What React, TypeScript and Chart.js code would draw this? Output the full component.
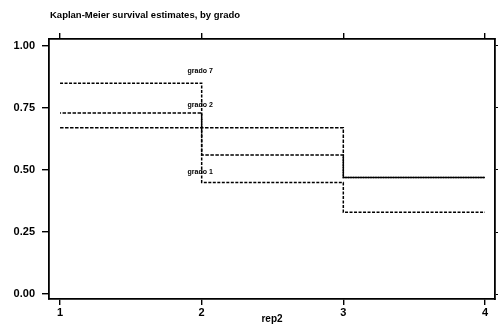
import React, { useEffect, useRef } from "react";
import { Chart, registerables } from "chart.js";

Chart.register(...registerables);

const times = [1, 2, 3, 4];
const grado1 = [0.67, 0.67, 0.47, 0.47];
const grado2 = [0.73, 0.56, 0.47, 0.47];
const grado7 = [0.85, 0.45, 0.33, 0.33];
const seriesNames = ["grado 1", "grado 2", "grado 7"];
const labelX = [1.9, 1.9, 1.9];
const labelY = [0.49, 0.76, 0.9];
const xTicks = [1, 2, 3, 4];
const yTicks = [0, 0.25, 0.5, 0.75, 1];
const titleText = "Kaplan-Meier survival estimates, by grado";
const xTitle = "rep2";

const FONT = "'Liberation Sans', Arial, sans-serif";

export default function App() {
  const ref = useRef<HTMLCanvasElement | null>(null);
  useEffect(() => {
    document.body.style.margin = "0";
    const canvas = ref.current;
    if (!canvas) return;
    const toPts = (ys: number[]) => times.map((t, i) => ({ x: t, y: ys[i] }));
    const line = (label: string, ys: number[], dash: number[], offset: number) => ({
      label,
      data: toPts(ys),
      borderColor: "#000",
      borderWidth: 1.5,
      borderDash: dash,
      borderDashOffset: offset,
      pointRadius: 0,
      stepped: "before" as const,
      fill: false,
    });
    const annot = {
      id: "annot",
      afterDraw(chart: any) {
        const { ctx, chartArea, scales } = chart;
        ctx.save();
        ctx.fillStyle = "#000";
        ctx.textBaseline = "middle";
        ctx.textAlign = "left";
        ctx.font = `bold 9.5px ${FONT}`;
        ctx.fillText(titleText, chartArea.left + 1, 15);
        ctx.textAlign = "center";
        ctx.font = `bold 10px ${FONT}`;
        ctx.fillText(xTitle, (chartArea.left + chartArea.right) / 2, 319);
        ctx.textAlign = "left";
        ctx.font = `bold 7px ${FONT}`;
        seriesNames.forEach((n, i) => {
          ctx.fillText(n, scales.x.getPixelForValue(labelX[i]), scales.y.getPixelForValue(labelY[i]));
        });
        ctx.restore();
      },
    };
    const xMin = 0.922, xMax = 4.071, yMin = -0.02, yMax = 1.028;
    const tickFont = { family: FONT, size: 11, weight: "bold" as const };
    const chart = new Chart(canvas, {
      type: "line",
      data: {
        datasets: [
          line(seriesNames[0], grado1, [3.5, 1.5], 0),
          line(seriesNames[1], grado2, [3.5, 1.5], 2.5),
          line(seriesNames[2], grado7, [3, 1.5], 0),
        ],
      },
      options: {
        animation: false,
        responsive: false,
        events: [],
        layout: { padding: 0 },
        plugins: { legend: { display: false }, title: { display: false }, tooltip: { enabled: false } },
        scales: {
          x: {
            type: "linear",
            position: "bottom",
            min: xMin,
            max: xMax,
            grid: { drawOnChartArea: false, tickLength: 6, color: "#000", lineWidth: 1.4 },
            border: { color: "#000", width: 1.8 },
            ticks: { font: tickFont, color: "#000", padding: 1, callback: (v: any) => String(v) },
            afterBuildTicks: (s: any) => { s.ticks = xTicks.map((v) => ({ value: v })); },
            afterFit: (s: any) => { s.height = 27; },
          },
          x2: {
            type: "linear",
            position: "top",
            min: xMin,
            max: xMax,
            grid: { drawOnChartArea: false, tickLength: 6, color: "#000", lineWidth: 1.4 },
            border: { color: "#000", width: 1.8 },
            ticks: { display: false },
            afterBuildTicks: (s: any) => { s.ticks = xTicks.map((v) => ({ value: v })); },
            afterFit: (s: any) => { s.height = 39; },
          },
          y: {
            type: "linear",
            position: "left",
            min: yMin,
            max: yMax,
            grid: { drawOnChartArea: false, tickLength: 7, color: "#000", lineWidth: 1.4 },
            border: { color: "#000", width: 1.8 },
            ticks: { font: tickFont, color: "#000", padding: 7, callback: (v: any) => Number(v).toFixed(2) },
            afterBuildTicks: (s: any) => { s.ticks = yTicks.map((v) => ({ value: v })); },
            afterFit: (s: any) => { s.width = 49; },
          },
          y2: {
            type: "linear",
            position: "right",
            min: yMin,
            max: yMax,
            grid: { drawOnChartArea: false, tickLength: 3, color: "#000", lineWidth: 1 },
            border: { color: "#000", width: 1.8 },
            ticks: { display: false },
            afterBuildTicks: (s: any) => { s.ticks = yTicks.map((v) => ({ value: v })); },
            afterFit: (s: any) => { s.width = 3; },
          },
        },
      },
      plugins: [annot],
    });
    return () => chart.destroy();
  }, []);
  return (
    <div style={{ width: 498, height: 326, background: "#fff" }}>
      <canvas ref={ref} width={498} height={326} />
    </div>
  );
}
